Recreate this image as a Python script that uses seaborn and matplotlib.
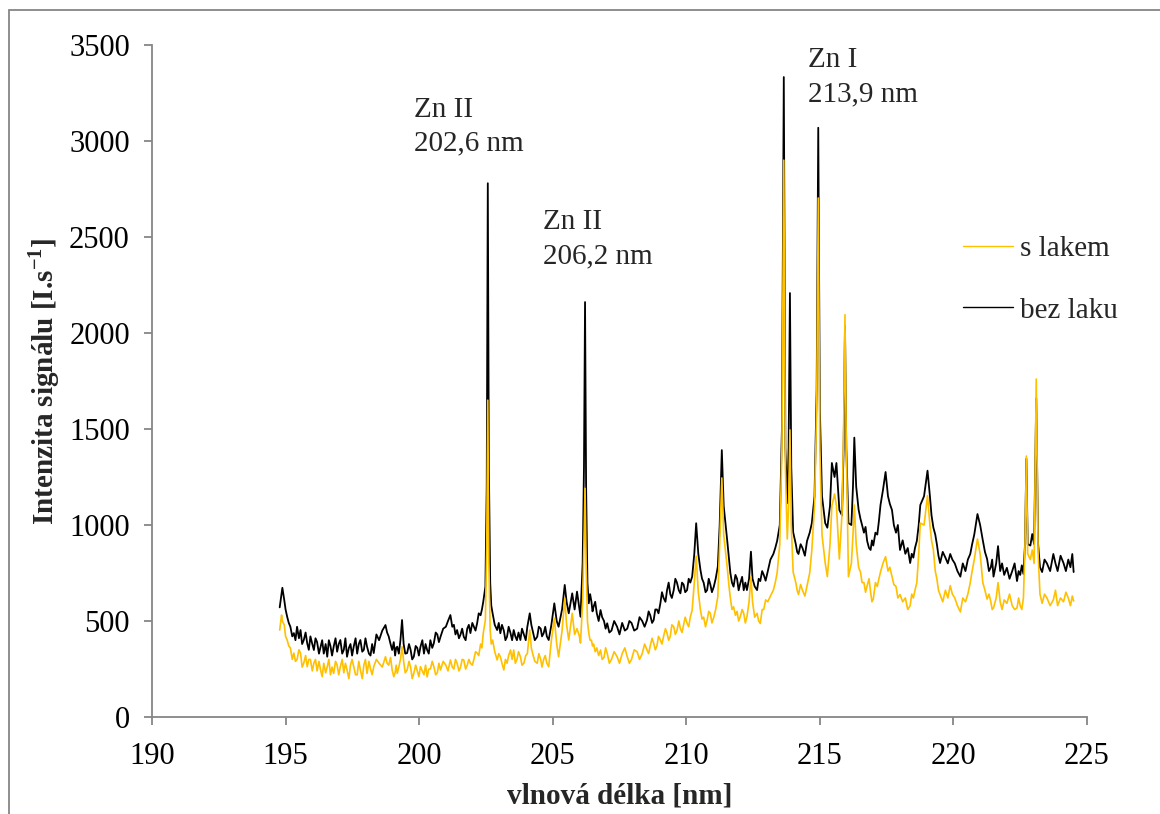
import matplotlib
matplotlib.use("Agg")
import matplotlib.pyplot as plt
from matplotlib.patches import Rectangle
import seaborn as sns
import pandas as pd

# ---- data ----
wavelength = [
    # 194.8 - 202.5
    194.78, 194.85, 194.88, 194.95, 195.00, 195.06, 195.12, 195.18, 195.25, 195.31,
    195.37, 195.43, 195.50, 195.56, 195.62, 195.68, 195.75, 195.81, 195.87, 195.93,
    196.00, 196.06, 196.12, 196.18, 196.25, 196.31, 196.37, 196.43, 196.50, 196.56,
    196.62, 196.68, 196.74, 196.80, 196.87, 196.93, 196.99, 197.05, 197.12, 197.18,
    197.24, 197.30, 197.37, 197.43, 197.49, 197.55, 197.62, 197.68, 197.74, 197.80,
    197.87, 197.93, 197.99, 198.05, 198.12, 198.18, 198.24, 198.30, 198.40, 198.50,
    198.62, 198.74, 198.80, 198.86, 198.93, 198.99, 199.05, 199.10, 199.14, 199.18,
    199.24, 199.30, 199.36, 199.42, 199.48, 199.55, 199.62, 199.68, 199.74, 199.80,
    199.87, 199.93, 199.99, 200.05, 200.12, 200.18, 200.24, 200.30, 200.36, 200.42,
    200.49, 200.55, 200.62, 200.68, 200.74, 200.80, 200.90, 201.00, 201.08, 201.17,
    201.24, 201.30, 201.36, 201.42, 201.49, 201.55, 201.61, 201.67, 201.74, 201.80,
    201.86, 201.92, 201.99, 202.05, 202.11, 202.17, 202.23, 202.30, 202.35, 202.40,
    202.48,
    # 202.5 - 206.4
    202.53, 202.57, 202.61, 202.66, 202.70, 202.75, 202.83, 202.92, 202.98, 203.04,
    203.10, 203.17, 203.23, 203.29, 203.35, 203.42, 203.48, 203.54, 203.60, 203.66,
    203.72, 203.79, 203.85, 203.92, 203.99, 204.05, 204.14, 204.20, 204.25, 204.33,
    204.42, 204.48, 204.55, 204.60, 204.66, 204.72, 204.78, 204.85, 204.95, 205.06,
    205.15, 205.22, 205.35, 205.45, 205.52, 205.60, 205.73, 205.82, 205.91, 206.00,
    206.04, 206.12, 206.17, 206.21, 206.25, 206.30, 206.35,
    # 206.4 - 210.2
    206.40, 206.45, 206.49, 206.53, 206.59, 206.65, 206.72, 206.79, 206.85, 206.92,
    206.98, 207.04, 207.12, 207.20, 207.30, 207.41, 207.50, 207.60, 207.70, 207.79,
    207.87, 207.95, 208.05, 208.16, 208.25, 208.35, 208.44, 208.53, 208.59, 208.65,
    208.72, 208.78, 208.84, 208.90, 208.96, 209.03, 209.09, 209.15, 209.22, 209.28,
    209.34, 209.40, 209.46, 209.53, 209.59, 209.65, 209.72, 209.78, 209.84, 209.90,
    209.96, 210.03, 210.09, 210.15, 210.22,
    # 210.3 - 213.5
    210.30, 210.37, 210.45, 210.53, 210.59, 210.65, 210.72, 210.78, 210.84, 210.90,
    210.96, 211.03, 211.10, 211.18, 211.25, 211.33, 211.40, 211.53, 211.60, 211.65,
    211.71, 211.77, 211.84, 211.90, 211.96, 212.02, 212.09, 212.15, 212.21, 212.27,
    212.35, 212.42, 212.48, 212.56, 212.65, 212.71, 212.77, 212.84, 212.90, 212.97,
    213.05, 213.15, 213.26, 213.33, 213.40, 213.50,
    # 213.6 - 216.4
    213.58, 213.65, 213.71, 213.78, 213.83, 213.88, 213.93, 214.00, 214.10, 214.15,
    214.20, 214.28, 214.35, 214.44, 214.52, 214.62, 214.70, 214.80, 214.88, 214.94,
    215.00, 215.08, 215.20, 215.28, 215.38, 215.45, 215.55, 215.62, 215.73, 215.83,
    215.89, 215.94, 215.99, 216.07, 216.18, 216.24, 216.29, 216.36,
    # 216.4 - 224.5
    216.45, 216.52, 216.58, 216.65, 216.71, 216.77, 216.84, 216.90, 216.95, 217.00,
    217.08, 217.15, 217.21, 217.27, 217.36, 217.46, 217.55, 217.62, 217.70, 217.77,
    217.85, 217.92, 218.00, 218.10, 218.20, 218.29, 218.38, 218.44, 218.50, 218.56,
    218.63, 218.70, 218.76, 218.90, 219.03, 219.12, 219.18, 219.25, 219.32, 219.38,
    219.44, 219.50, 219.60, 219.70, 219.79, 219.88, 219.96, 220.05, 220.15, 220.26,
    220.35, 220.45, 220.54, 220.63, 220.70, 220.78, 220.90, 221.00, 221.10, 221.18,
    221.26, 221.33, 221.40, 221.45, 221.50, 221.60, 221.67, 221.75, 221.82, 221.90,
    222.00, 222.10, 222.20, 222.29, 222.38, 222.44, 222.50, 222.56, 222.62, 222.68,
    222.73, 222.78, 222.88, 222.95, 223.02, 223.10, 223.17, 223.24, 223.32, 223.41,
    223.50, 223.62, 223.74, 223.82, 223.90, 224.01, 224.12, 224.21, 224.30, 224.38,
    224.45, 224.50,
]

bez_laku = [
    # 194.8 - 202.5
    571, 640, 673, 610, 560, 522, 490, 470, 420, 437,
    400, 470, 410, 453, 380, 400, 440, 384, 350, 420,
    380, 349, 410, 390, 330, 366, 400, 330, 380, 314,
    400, 370, 320, 366, 410, 340, 380, 401, 330, 350,
    410, 314, 360, 380, 320, 366, 410, 330, 380, 401,
    340, 350, 410, 366, 330, 320, 380, 333, 430, 400,
    450, 479, 440, 420, 380, 349, 390, 320, 360, 366,
    330, 400, 505, 380, 330, 333, 380, 350, 300, 314,
    370, 360, 320, 366, 400, 330, 380, 349, 330, 400,
    360, 384, 440, 430, 390, 418, 460, 470, 500, 531,
    470, 480, 430, 453, 410, 430, 460, 418, 400, 460,
    480, 437, 490, 470, 450, 488, 540, 530, 560, 600,
    679,
    # 202.5 - 206.4
    1200, 2780, 1300, 700, 580, 540, 480, 453, 490, 436,
    480, 450, 400, 418, 470, 437, 400, 453, 420, 400,
    440, 401, 460, 430, 400, 470, 540, 480, 450, 400,
    418, 470, 460, 420, 436, 470, 420, 401, 480, 592,
    500, 470, 560, 688, 600, 540, 644, 560, 653, 560,
    522, 800, 1300, 2161, 1200, 700, 592,
    # 206.4 - 210.2
    640, 600, 550, 574, 600, 540, 500, 557, 520, 500,
    460, 488, 440, 450, 500, 470, 430, 490, 450, 460,
    500, 490, 450, 460, 520, 500, 470, 505, 550, 530,
    490, 505, 560, 560, 540, 592, 650, 620, 600, 661,
    700, 640, 620, 661, 720, 700, 660, 644, 700, 690,
    650, 661, 720, 700, 731,
    # 210.3 - 213.5
    850, 1009, 850, 766, 720, 700, 650, 661, 720, 690,
    650, 679, 720, 783, 1000, 1390, 1100, 922, 820, 750,
    700, 679, 740, 720, 660, 696, 730, 660, 700, 661,
    720, 861, 720, 680, 661, 720, 708, 760, 740, 710,
    760, 820, 849, 880, 917, 1000,
    # 213.6 - 216.4
    1500, 3333, 1400, 1114, 1400, 2208, 1300, 963, 900, 860,
    849, 900, 880, 840, 917, 960, 1010, 1150, 1700, 3069,
    1600, 1150, 1010, 986, 1100, 1323, 1250, 1323, 1078, 1050,
    1400, 2036, 1400, 1010, 1000, 1200, 1455, 1200,
    # 216.4 - 224.5
    1080, 1032, 1000, 960, 990, 917, 880, 870, 920, 893,
    960, 950, 1020, 1104, 1180, 1276, 1150, 1110, 1078, 1000,
    960, 1000, 870, 920, 850, 880, 802, 850, 830, 880,
    917, 1000, 1104, 1150, 1283, 1150, 1050, 986, 950, 900,
    840, 802, 860, 830, 800, 849, 820, 800, 760, 731,
    800, 760, 820, 849, 900, 950, 1057, 1000, 920, 860,
    823, 760, 780, 820, 731, 800, 890, 760, 800, 740,
    777, 720, 760, 800, 708, 760, 740, 790, 745, 900,
    1345, 900, 893, 953, 900, 1659, 900, 780, 755, 820,
    800, 760, 849, 800, 760, 840, 802, 760, 820, 780,
    849, 755,
]

s_lakem = [
    # 194.8 - 202.5
    453, 531, 500, 480, 420, 401, 370, 360, 300, 333,
    290, 300, 350, 333, 260, 280, 320, 262, 300, 300,
    240, 281, 300, 240, 290, 245, 210, 280, 230, 262,
    300, 220, 260, 227, 290, 270, 220, 262, 300, 230,
    280, 245, 200, 270, 300, 262, 220, 220, 290, 245,
    200, 270, 300, 227, 290, 250, 220, 262, 300, 280,
    260, 314, 280, 270, 310, 245, 210, 230, 270, 227,
    260, 300, 366, 290, 230, 245, 290, 260, 200, 227,
    270, 240, 210, 262, 240, 220, 270, 209, 250, 250,
    290, 262, 220, 230, 280, 245, 290, 270, 240, 297,
    260, 250, 300, 280, 240, 260, 300, 297, 250, 270,
    300, 280, 270, 300, 340, 333, 320, 380, 360, 437,
    505,
    # 202.5 - 206.4
    900, 1650, 800, 450, 380, 401, 340, 297, 330, 314,
    280, 245, 300, 280, 320, 349, 300, 349, 280, 300,
    340, 314, 270, 280, 320, 330, 453, 360, 330, 290,
    280, 330, 300, 260, 300, 320, 280, 262, 400, 514,
    380, 314, 450, 618, 480, 401, 540, 430, 460, 420,
    385, 600, 900, 1191, 800, 500, 436,
    # 206.4 - 210.2
    400, 400, 370, 380, 340, 360, 320, 349, 300, 310,
    360, 332, 280, 300, 340, 314, 280, 330, 360, 314,
    280, 300, 350, 340, 300, 330, 380, 349, 330, 370,
    410, 384, 350, 370, 420, 401, 380, 420, 460, 436,
    400, 420, 480, 470, 430, 450, 500, 460, 440, 480,
    520, 488, 470, 520, 557,
    # 210.3 - 213.5
    700, 838, 650, 557, 510, 520, 470, 505, 550, 540,
    490, 520, 560, 627, 900, 1245, 950, 783, 680, 620,
    560, 574, 530, 550, 500, 522, 560, 540, 490, 522,
    600, 731, 600, 520, 540, 500, 487, 560, 560, 610,
    600, 630, 661, 700, 750, 900,
    # 213.6 - 216.4
    1400, 2900, 1300, 927, 1100, 1495, 1000, 755, 700, 660,
    638, 690, 660, 630, 684, 750, 870, 1100, 1600, 2703,
    1400, 950, 802, 731, 900, 1100, 1162, 1100, 823, 1060,
    1500, 2095, 1400, 731, 800, 950, 1104, 900,
    # 216.4 - 224.5
    780, 755, 700, 700, 650, 684, 720, 650, 600, 614,
    700, 680, 720, 755, 800, 835, 760, 780, 731, 690,
    680, 620, 638, 600, 620, 560, 580, 640, 620, 660,
    700, 850, 1010, 1000, 1153, 1000, 920, 870, 760, 720,
    660, 638, 600, 660, 620, 684, 640, 620, 580, 547,
    620, 600, 640, 700, 760, 820, 927, 850, 700, 660,
    614, 640, 600, 560, 568, 620, 700, 600, 560, 610,
    592, 640, 580, 560, 568, 620, 580, 560, 620, 900,
    1359, 850, 820, 870, 800, 1760, 850, 640, 592, 640,
    620, 580, 610, 660, 580, 620, 600, 650, 620, 580,
    630, 604,
]

series_names = ["s lakem", "bez laku"]
x_ticks = [190, 195, 200, 205, 210, 215, 220, 225]
y_ticks = [0, 500, 1000, 1500, 2000, 2500, 3000, 3500]
annotations = [("Zn II", "202,6 nm", 199.8, 3161, 2989),
               ("Zn II", "206,2 nm", 204.65, 2578, 2401),
               ("Zn I", "213,9 nm", 214.57, 3422, 3244)]

# ---- style ----
sns.set_style("white")
plt.rcParams["font.family"] = ["Liberation Serif", "DejaVu Serif"]
plt.rcParams["mathtext.fontset"] = "custom"
plt.rcParams["mathtext.rm"] = "Liberation Serif"
plt.rcParams["mathtext.bf"] = "Liberation Serif:bold"

GRAY = "#868686"
fig = plt.figure(figsize=(11.6, 8.14), dpi=100)
ax = fig.add_axes([152 / 1160, 1 - 717 / 814, 935 / 1160, 672 / 814])

df = pd.DataFrame({"wavelength": wavelength, "bez laku": bez_laku, "s lakem": s_lakem})

sns.lineplot(data=df, x="wavelength", y="bez laku", color="black", lw=1.3,
             sort=False, estimator=None, ax=ax, label="bez laku")
sns.lineplot(data=df, x="wavelength", y="s lakem", color="#FFC000", lw=1.2,
             sort=False, estimator=None, ax=ax, label="s lakem")

ax.set_xlim(190, 225)
ax.set_ylim(0, 3500)
ax.set_xticks(x_ticks)
ax.set_yticks(y_ticks)
ax.set_xticklabels([str(t) for t in x_ticks])
ax.set_yticklabels([str(t) for t in y_ticks])

for s in ["top", "right"]:
    ax.spines[s].set_visible(False)
for s in ["left", "bottom"]:
    ax.spines[s].set_color(GRAY)
    ax.spines[s].set_linewidth(1.3)

ax.tick_params(axis="both", which="major", direction="out", length=6, width=1.3,
               color=GRAY, labelsize=22, labelcolor="black")
ax.tick_params(axis="x", pad=12, bottom=True)
ax.tick_params(axis="y", pad=10, left=True)

ax.set_xlabel("vlnová délka [nm]", fontsize=21, fontweight="bold")
ax.set_ylabel(r"Intenzita signálu [I.s$^{\mathbf{-1}}$]", fontsize=21,
              fontweight="bold")
ax.xaxis.set_label_coords(0.5, -0.097)
ax.yaxis.set_label_coords(-0.096, 0.5)

for l1, l2, xx, y1, y2 in annotations:
    ax.text(xx, y1, l1, fontsize=21, ha="left", va="center")
    ax.text(xx, y2, l2, fontsize=21, ha="left", va="center")

handles, labels = ax.get_legend_handles_labels()
order = [labels.index(n) for n in series_names]
leg = ax.legend([handles[i] for i in order], [labels[i] for i in order],
                loc="upper left", bbox_to_anchor=(0.867, 0.716), frameon=False,
                fontsize=21, handlelength=1.71, handletextpad=0.24, labelspacing=1.2,
                borderpad=0, borderaxespad=0)
for h in leg.get_lines():
    h.set_linewidth(1.0)

fig.patches.append(Rectangle((9 / 1160, -0.1), 1.5, 1.1 - 10.5 / 814,
                             transform=fig.transFigure, fill=False,
                             edgecolor=GRAY, lw=1.3, zorder=-1))

fig.savefig("out.png", dpi=100)
